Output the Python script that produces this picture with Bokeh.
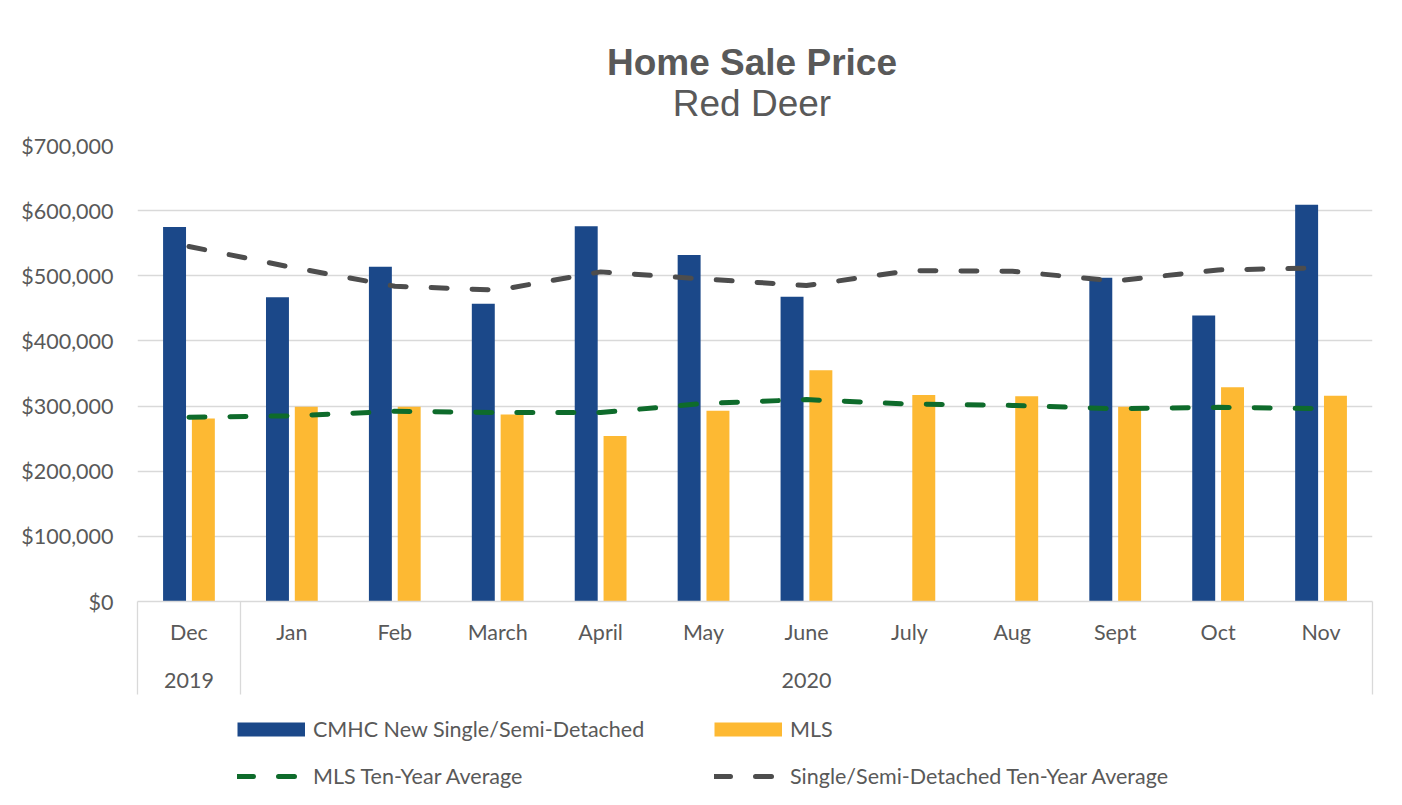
import numpy as np
from bokeh.plotting import figure
from bokeh.layouts import column
from bokeh.models import (ColumnDataSource, Range1d, LinearAxis, FixedTicker, Label,
                          NumeralTickFormatter, Legend, LegendItem)
from bokeh.transform import dodge
from bokeh.embed import file_html
from bokeh.resources import INLINE

months = ["Dec", "Jan", "Feb", "March", "April", "May", "June", "July", "Aug", "Sept", "Oct", "Nov"]
year_labels = {0: "2019", 6: "2020"}
cmhc = [575000, 467000, 514000, 457000, 576000, 532000, 468000, np.nan, np.nan, 497000, 439000, 609000]
mls = [281000, 299000, 299000, 287000, 254000, 293000, 355000, 317000, 315000, 299000, 329000, 316000]
mls_avg = [283000, 285000, 292000, 290000, 290000, 304000, 310000, 303000, 301000, 296000, 298000, 296000]
single_avg = [545000, 513000, 484000, 478000, 506000, 495000, 485000, 508000, 507000, 492000, 509000, 512000]
y_ticks = [0, 100000, 200000, 300000, 400000, 500000, 600000, 700000]
title = "Home Sale Price"
subtitle = "Red Deer"

TEXT = "#595959"
GRID = "#d9d9d9"
FONT = "Lato"
BLUE, YELLOW, GREEN, GRAY = "#1b4889", "#fdb933", "#0e6b2b", "#4d4d4d"
W = 1394
LB, RB = 137, 22          # shared left / right borders (frames are aligned in the column)
FX0, FX1 = LB, W - RB     # frame span in pixels

# ---------------- title strip ----------------
pt = figure(width=W, height=130, x_range=Range1d(FX0, FX1), y_range=Range1d(130, 0),
            x_axis_type=None, y_axis_type=None, output_backend="svg", toolbar_location=None,
            min_border_left=LB, min_border_right=RB, min_border_top=0, min_border_bottom=0)
pt.outline_line_color = None
pt.add_layout(Label(x=751.5, y=62, text=title, text_align="center", text_baseline="middle",
                    text_font="Liberation Sans", text_font_size="37px", text_font_style="bold",
                    text_color=TEXT))
pt.add_layout(Label(x=751.5, y=103, text=subtitle, text_align="center", text_baseline="middle",
                    text_font="Liberation Sans", text_font_size="37px", text_color=TEXT))

# ---------------- main chart ----------------
idx = list(range(len(months)))
src = ColumnDataSource(dict(idx=idx, month=months, cmhc=np.array(cmhc, dtype=float), mls=mls,
                            mls_avg=mls_avg, single_avg=single_avg))

p = figure(width=W, height=565,
           x_range=Range1d(-0.5, len(months) - 0.5), y_range=Range1d(0, 700000),
           x_axis_type=None, output_backend="svg", toolbar_location=None,
           min_border_left=LB, min_border_right=RB, min_border_top=15, min_border_bottom=94)
p.outline_line_color = None

p.vbar(x=dodge("idx", -0.14), top="cmhc", width=0.223, source=src, fill_color=BLUE, line_color=None)
p.vbar(x=dodge("idx", 0.14), top="mls", width=0.223, source=src, fill_color=YELLOW, line_color=None)
p.line(x="idx", y="mls_avg", source=src, line_color=GREEN, line_width=5,
       line_dash="16 25", line_cap="round")
p.line(x="idx", y="single_avg", source=src, line_color=GRAY, line_width=5,
       line_dash="16 25", line_cap="round")

p.yaxis.ticker = FixedTicker(ticks=y_ticks)
p.yaxis.formatter = NumeralTickFormatter(format="$0,0")
p.yaxis.axis_line_color = None
p.yaxis.major_tick_line_color = None
p.yaxis.minor_tick_line_color = None
p.yaxis.major_label_text_font = FONT
p.yaxis.major_label_text_font_size = "21.5px"
p.yaxis.major_label_text_color = TEXT
p.yaxis.major_label_standoff = 18
p.ygrid.grid_line_color = GRID
p.ygrid.grid_line_width = 1.3

ax1 = LinearAxis(ticker=FixedTicker(ticks=idx, minor_ticks=[-0.499, 0.5, len(months) - 0.501]),
                 major_label_overrides={i: m for i, m in enumerate(months)})
ax1.axis_line_color = GRID
ax1.axis_line_width = 1.3
ax1.major_tick_line_color = None
ax1.minor_tick_line_color = GRID
ax1.minor_tick_line_width = 1.3
ax1.minor_tick_in = 0
ax1.minor_tick_out = 93
ax1.major_label_text_font = FONT
ax1.major_label_text_font_size = "21.5px"
ax1.major_label_text_color = TEXT
ax1.major_label_standoff = -76
p.add_layout(ax1, "below")

ax2 = LinearAxis(ticker=FixedTicker(ticks=list(year_labels.keys())),
                 major_label_overrides=year_labels)
ax2.axis_line_color = None
ax2.major_tick_line_color = None
ax2.minor_tick_line_color = None
ax2.major_label_text_font = FONT
ax2.major_label_text_font_size = "21.5px"
ax2.major_label_text_color = TEXT
ax2.major_label_standoff = 19
p.add_layout(ax2, "below")

# ---------------- legend strip ----------------
pl = figure(width=W, height=105, x_range=Range1d(0, 1), y_range=Range1d(0, 1),
            x_axis_type=None, y_axis_type=None, output_backend="svg", toolbar_location=None,
            min_border_left=LB, min_border_right=RB, min_border_top=10, min_border_bottom=0)
pl.outline_line_color = None
nan = [np.nan]
g1 = pl.line(x=nan, y=nan, line_color=BLUE, line_width=14)
g2 = pl.line(x=nan, y=nan, line_color=GREEN, line_width=5, line_dash="16 25", line_cap="round")
g3 = pl.line(x=nan, y=nan, line_color=YELLOW, line_width=14)
g4 = pl.line(x=nan, y=nan, line_color=GRAY, line_width=5, line_dash="16 25", line_cap="round")

leg = Legend(items=[LegendItem(label="CMHC New Single/Semi-Detached", renderers=[g1]),
                    LegendItem(label="MLS Ten-Year Average", renderers=[g2]),
                    LegendItem(label="MLS", renderers=[g3]),
                    LegendItem(label="Single/Semi-Detached Ten-Year Average", renderers=[g4])],
             location=(100, 11), orientation="vertical", ncols=2)
leg.padding = 0
leg.margin = 0
leg.spacing = 21
leg.border_line_color = None
leg.background_fill_alpha = 0
leg.glyph_width = 68
leg.glyph_height = 24
leg.label_height = 24
leg.label_width = 380
leg.label_standoff = 8
leg.label_text_font = FONT
leg.label_text_font_size = "21.5px"
leg.label_text_color = TEXT
pl.add_layout(leg, "center")

layout = column(pt, p, pl, spacing=0)
open("out.html", "w").write(file_html(layout, INLINE))
